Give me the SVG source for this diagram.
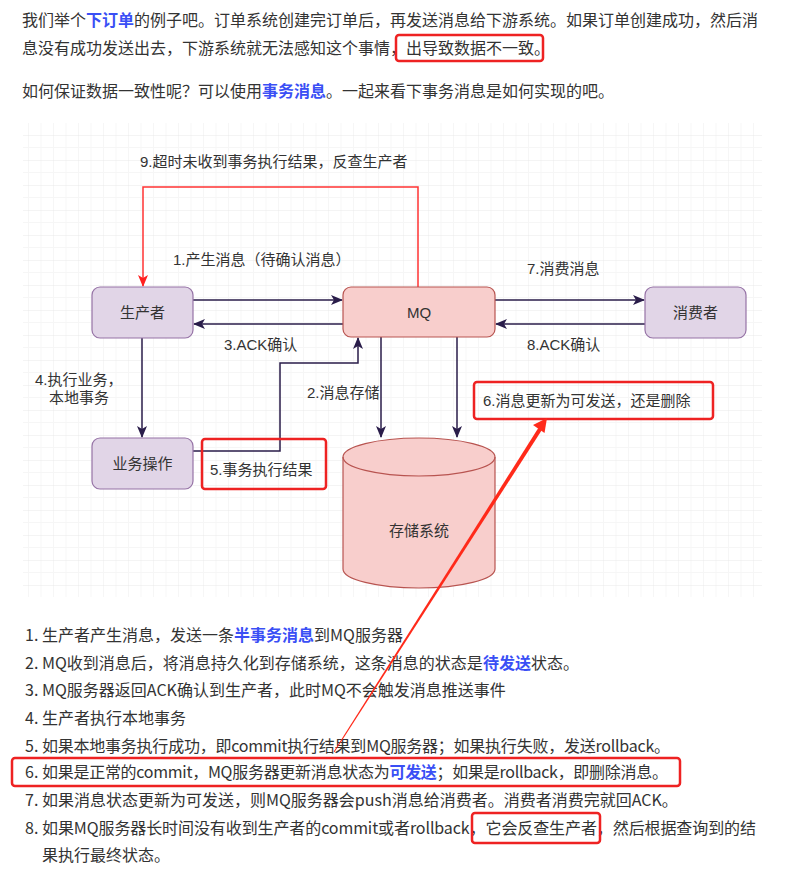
<svg xmlns="http://www.w3.org/2000/svg" width="789" height="873" viewBox="0 0 789 873">
<style>
.body{font-family:"Noto Sans CJK SC","Liberation Sans",sans-serif;font-size:16px;fill:#333}
.hl{fill:#3a4ff5;font-weight:bold}
.lbl{font-family:"Liberation Sans","Noto Sans CJK SC",sans-serif;font-size:15px;fill:#333}
.nd{font-family:"Liberation Sans","Noto Sans CJK SC",sans-serif;font-size:15px;fill:#333;text-anchor:middle}
.purple{fill:#e1d5e7;stroke:#9673a6;stroke-width:1.2}
.pink{fill:#f8cecc;stroke:#b85450;stroke-width:1.2}
.edge{fill:none;stroke:#2a1d4a;stroke-width:1.5}
.redge{fill:none;stroke:#ff3333;stroke-width:1.5}
.mark{fill:none;stroke:#ee2222;stroke-width:2.5}
</style>
<defs>
<pattern id="grid" x="28" y="135" width="12.5" height="25" patternUnits="userSpaceOnUse">
<line x1="0" y1="0" x2="0" y2="25" stroke="#eeeeee" stroke-width="1"/>
<line x1="0" y1="0" x2="12.5" y2="0" stroke="#e8e8e8" stroke-width="1"/>
<line x1="0" y1="12.5" x2="12.5" y2="12.5" stroke="#f6f6f6" stroke-width="1"/>
</pattern>
<marker id="arr" markerWidth="12" markerHeight="10" refX="11" refY="5" orient="auto" markerUnits="userSpaceOnUse">
<path d="M0,0 L12,5 L0,10 L3,5 z" fill="#2a1d4a"/>
</marker>
<marker id="rarr" markerWidth="12" markerHeight="10" refX="11" refY="5" orient="auto" markerUnits="userSpaceOnUse">
<path d="M0,0 L12,5 L0,10 L3,5 z" fill="#ff2020"/>
</marker>
</defs>
<rect width="789" height="873" fill="#ffffff"/>

<g id="intro">
<text class="body" x="22" y="26">我们举个<tspan class="hl">下订单</tspan>的例子吧。订单系统创建完订单后，再发送消息给下游系统。如果订单创建成功，然后消</text>
<text class="body" x="22" y="54">息没有成功发送出去，下游系统就无法感知这个事情，出导致数据不一致。</text>
<rect class="mark" x="396" y="35" width="147" height="26" rx="3"/>
<text class="body" x="22" y="97">如何保证数据一致性呢？可以使用<tspan class="hl">事务消息</tspan>。一起来看下事务消息是如何实现的吧。</text>
</g>

<rect x="23" y="123" width="739" height="474" fill="url(#grid)"/>

<g id="connectors">
<path class="redge" d="M418,287 V187 H143 V286" marker-end="url(#rarr)"/>
<line class="edge" x1="193" y1="300" x2="342" y2="300" marker-end="url(#arr)"/>
<line class="edge" x1="343" y1="324" x2="194" y2="324" marker-end="url(#arr)"/>
<line class="edge" x1="495" y1="300" x2="644" y2="300" marker-end="url(#arr)"/>
<line class="edge" x1="645" y1="324" x2="496" y2="324" marker-end="url(#arr)"/>
<line class="edge" x1="142" y1="338" x2="142" y2="437" marker-end="url(#arr)"/>
<path class="edge" d="M193,451 H280 V363 H358 V338" marker-end="url(#arr)"/>
<line class="edge" x1="381" y1="337" x2="381" y2="437" marker-end="url(#arr)"/>
<line class="edge" x1="457" y1="337" x2="457" y2="437" marker-end="url(#arr)"/>
</g>

<g id="producer">
<rect class="purple" x="92" y="287" width="101" height="51" rx="8"/>
<text class="nd" x="142.5" y="318">生产者</text>
</g>
<g id="mq">
<rect class="pink" x="343" y="287" width="152" height="50" rx="8"/>
<text class="nd" x="419" y="318">MQ</text>
</g>
<g id="consumer">
<rect class="purple" x="645" y="287" width="101" height="51" rx="8"/>
<text class="nd" x="695.5" y="318">消费者</text>
</g>
<g id="business">
<rect class="purple" x="92" y="438" width="101" height="51" rx="8"/>
<text class="nd" x="142.5" y="469">业务操作</text>
</g>
<g id="storage">
<path class="pink" d="M343,457 A76,19 0 0 1 495,457 V569 A76,19 0 0 1 343,569 Z"/>
<path fill="none" stroke="#b85450" stroke-width="1.2" d="M343,457 A76,19 0 0 0 495,457"/>
<text class="nd" x="419" y="536">存储系统</text>
</g>

<g id="labels">
<text class="lbl" x="140" y="167">9.超时未收到事务执行结果，反查生产者</text>
<text class="lbl" x="173" y="265">1.产生消息（待确认消息）</text>
<text class="lbl" x="224" y="350">3.ACK确认</text>
<text class="lbl" x="527" y="274">7.消费消息</text>
<text class="lbl" x="527" y="350">8.ACK确认</text>
<text class="lbl" x="35" y="385">4.执行业务，</text>
<text class="lbl" x="49" y="403">本地事务</text>
<text class="lbl" x="307" y="398">2.消息存储</text>
<text class="lbl" x="210" y="475">5.事务执行结果</text>
<rect class="mark" x="202" y="439" width="124" height="50" rx="3"/>
<text class="lbl" x="483" y="406">6.消息更新为可发送，还是删除</text>
<rect class="mark" x="474" y="382" width="239" height="37" rx="3"/>
</g>

<g id="list">
<text class="body" x="25" y="641">1.</text>
<text class="body" x="42" y="641">生产者产生消息，发送一条<tspan class="hl">半事务消息</tspan>到MQ服务器</text>
<text class="body" x="25" y="669">2.</text>
<text class="body" x="42" y="669">MQ收到消息后，将消息持久化到存储系统，这条消息的状态是<tspan class="hl">待发送</tspan>状态。</text>
<text class="body" x="25" y="696">3.</text>
<text class="body" x="42" y="696">MQ服务器返回ACK确认到生产者，此时MQ不会触发消息推送事件</text>
<text class="body" x="25" y="724">4.</text>
<text class="body" x="42" y="724">生产者执行本地事务</text>
<text class="body" x="25" y="752">5.</text>
<text class="body" x="42" y="752" textLength="628" lengthAdjust="spacing">如果本地事务执行成功，即commit执行结果到MQ服务器；如果执行失败，发送rollback。</text>
<text class="body" x="25" y="778">6.</text>
<text class="body" x="42" y="778" textLength="626" lengthAdjust="spacing">如果是正常的commit，MQ服务器更新消息状态为<tspan class="hl">可发送</tspan>；如果是rollback，即删除消息。</text>
<rect class="mark" x="12" y="758" width="668" height="28" rx="3"/>
<text class="body" x="25" y="806">7.</text>
<text class="body" x="42" y="806">如果消息状态更新为可发送，则MQ服务器会push消息给消费者。消费者消费完就回ACK。</text>
<text class="body" x="25" y="834">8.</text>
<text class="body" x="42" y="834" textLength="714" lengthAdjust="spacing">如果MQ服务器长时间没有收到生产者的commit或者rollback，它会反查生产者，然后根据查询到的结</text>
<rect class="mark" x="472" y="813" width="128" height="30" rx="3"/>
<text class="body" x="42" y="861">果执行最终状态。</text>
</g>

<g id="pointer">
<polygon points="538.3,428.1 541.7,430.3 334.4,752.2 333.6,751.8" fill="#ff2a1a"/>
<polygon points="547,418 544.5,433 533,425" fill="#ff2a1a"/>
</g>
</svg>
